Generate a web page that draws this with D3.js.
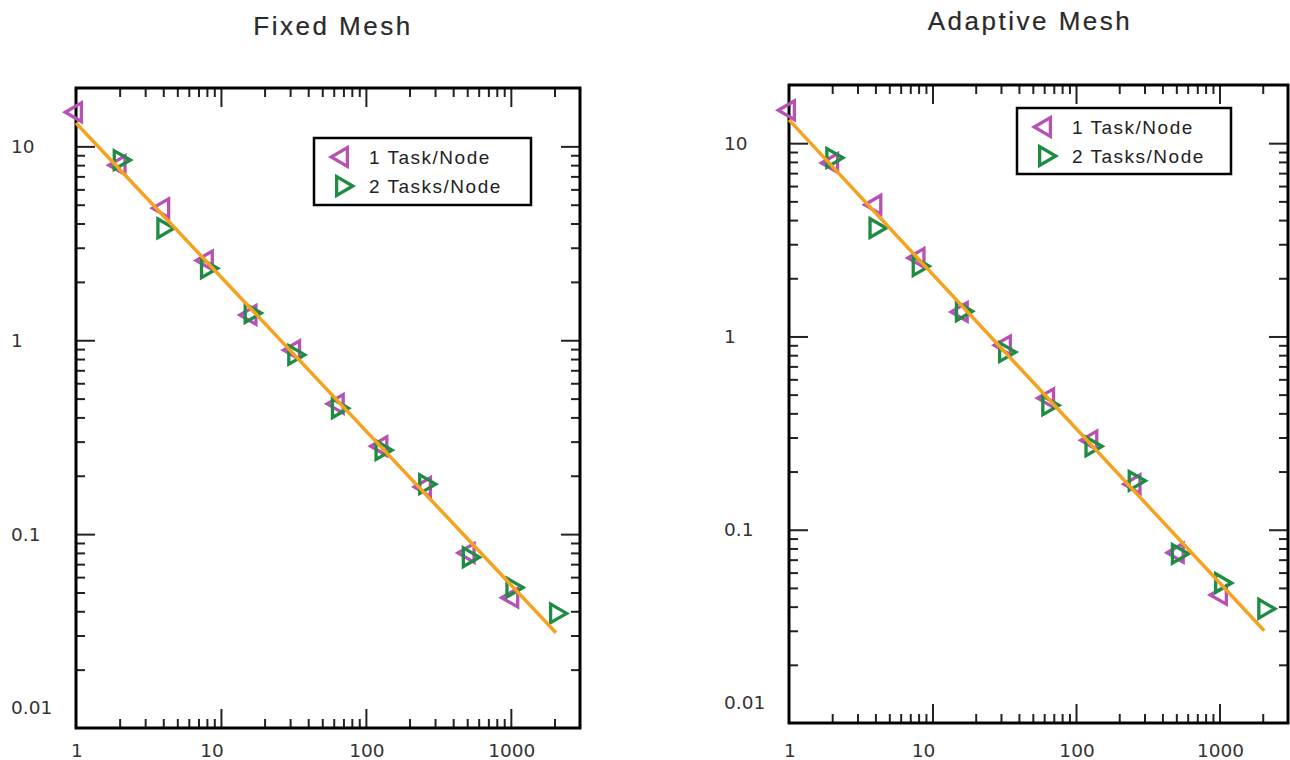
<!DOCTYPE html>
<html>
<head>
<meta charset="utf-8">
<script src="https://cdn.jsdelivr.net/npm/d3@7"></script>
<style>
  body { margin: 0; background: #fff; }
  svg { display: block; }
  .tick line { stroke: #222; stroke-width: 2; }
  .tick text { display: none; }
  .lbl { font-family: "DejaVu Sans", sans-serif; font-size: 18.5px; fill: #333; }
  .title { font-family: "Liberation Sans", Arial, sans-serif; font-size: 26px; letter-spacing: 2.5px;
           fill: #2a2a2a; stroke: #2a2a2a; stroke-width: 0.2px; }
  .leg { font-family: "Liberation Sans", Arial, sans-serif; font-size: 19px; letter-spacing: 1.5px; fill: #222; }
</style>
</head>
<body>
<svg id="chart" width="1290" height="760"></svg>
<script>
// processor counts
const nodesOne = [1, 2, 4, 8, 16, 32, 64, 128, 256, 512, 1024];
const nodesTwo = [2, 4, 8, 16, 32, 64, 128, 256, 512, 1024, 2048];

// time per step
const fixedOne = [15, 8.0, 4.8, 2.58, 1.35, 0.89, 0.47, 0.284, 0.175, 0.080, 0.047];
const fixedTwo = [8.5, 3.78, 2.35, 1.38, 0.84, 0.446, 0.271, 0.181, 0.076, 0.053, 0.039];
const adaptiveOne = [14.8, 7.9, 4.8, 2.55, 1.34, 0.90, 0.48, 0.29, 0.172, 0.076, 0.046];
const adaptiveTwo = [8.4, 3.64, 2.31, 1.35, 0.83, 0.44, 0.27, 0.179, 0.075, 0.053, 0.039];

// ideal scaling line (end points)
const fitX = [1, 2048];
const fitFixed = [13.2, 0.031];
const fitAdaptive = [13.2, 0.030];

const xMajor = [1, 10, 100, 1000];
const yMajor = [0.01, 0.1, 1, 10];
const xDomain = [1, 3000];
const yDomain = [0.01, 20];
const seriesNames = ["1 Task/Node", "2 Tasks/Node"];

const colOne = "#b752b3", colTwo = "#1e8c42", colFit = "#f4a21f";

const svg = d3.select("#chart");
const tri = d3.symbol().type(d3.symbolTriangle).size(150);

function fmt(v) { return v >= 1 ? String(v) : String(+v.toFixed(2)); }

function panel(o) {
    const x = d3.scaleLog().domain(xDomain).range([o.x0, o.x1]);
    const y = d3.scaleLog().domain(yDomain).range([o.y1, o.y0]);
    const g = svg.append("g");

    const isPow = v => Math.abs(Math.log10(v) - Math.round(Math.log10(v))) < 1e-9;
    const xMinor = x.ticks().filter(v => !isPow(v) && v > xDomain[0] && v < xDomain[1]);
    const yMinor = y.ticks().filter(v => !isPow(v) && v > yDomain[0] && v < yDomain[1]);
    const xMaj = xMajor.filter(v => v > xDomain[0]);
    const yMaj = yMajor.filter(v => v > yDomain[0]);

    // ticks on all four sides, pointing inward
    const sides = [
        [d3.axisBottom, x, `translate(0,${o.y1})`, xMinor, xMaj],
        [d3.axisTop, x, `translate(0,${o.y0})`, xMinor, xMaj],
        [d3.axisLeft, y, `translate(${o.x0},0)`, yMinor, yMaj],
        [d3.axisRight, y, `translate(${o.x1},0)`, yMinor, yMaj]
    ];
    sides.forEach(([ax, sc, tr, minor, major]) => {
        g.append("g").attr("transform", tr)
            .call(ax(sc).tickValues(minor).tickSize(-9).tickFormat(""))
            .call(s => s.select(".domain").remove());
        g.append("g").attr("transform", tr)
            .call(ax(sc).tickValues(major).tickSize(-19).tickFormat(""))
            .call(s => s.select(".domain").remove());
    });

    g.append("rect")
        .attr("x", o.x0).attr("y", o.y0)
        .attr("width", o.x1 - o.x0).attr("height", o.y1 - o.y0)
        .attr("fill", "none").attr("stroke", "#000").attr("stroke-width", 3);

    // tick labels
    g.selectAll(".xl").data(xMajor).join("text").attr("class", "lbl")
        .attr("x", d => x(d) + (d === 10 ? -9 : 1))
        .attr("y", 757)
        .attr("text-anchor", "middle")
        .text(fmt);
    g.selectAll(".yl").data(yMajor).join("text").attr("class", "lbl")
        .attr("x", o.x0 - 65)
        .attr("y", d => y(d) + (d === yDomain[0] ? -20 : 0))
        .attr("dy", "0.35em")
        .text(fmt);

    // markers
    g.selectAll(".m1").data(nodesOne.map((n, i) => [n, o.one[i]])).join("path")
        .attr("d", tri)
        .attr("transform", d => `translate(${x(d[0])},${y(d[1])}) rotate(-90)`)
        .attr("fill", "none").attr("stroke", colOne).attr("stroke-width", 3.3);
    g.selectAll(".m2").data(nodesTwo.map((n, i) => [n, o.two[i]])).join("path")
        .attr("d", tri)
        .attr("transform", d => `translate(${x(d[0])},${y(d[1])}) rotate(90)`)
        .attr("fill", "none").attr("stroke", colTwo).attr("stroke-width", 3.3);

    // fit line on top
    g.append("path")
        .datum(fitX.map((v, i) => [v, o.fit[i]]))
        .attr("d", d3.line().x(d => x(d[0])).y(d => y(d[1])))
        .attr("fill", "none").attr("stroke", colFit).attr("stroke-width", 3.5);

    // title
    g.append("text").attr("class", "title")
        .attr("x", o.tx).attr("y", o.ty)
        .attr("text-anchor", "middle")
        .text(o.title);

    // legend
    const L = o.leg;
    g.append("rect")
        .attr("x", L[0]).attr("y", L[1]).attr("width", L[2]).attr("height", L[3])
        .attr("fill", "#fff").attr("stroke", "#000").attr("stroke-width", 2.5);
    [[colOne, -90], [colTwo, 90]].forEach((c, i) => {
        const cy = L[1] + 19 + i * 29;
        g.append("path").attr("d", tri)
            .attr("transform", `translate(${L[0] + 28},${cy}) rotate(${c[1]})`)
            .attr("fill", "none").attr("stroke", c[0]).attr("stroke-width", 3.3);
        g.append("text").attr("class", "leg")
            .attr("x", L[0] + 55).attr("y", cy).attr("dy", "0.36em")
            .text(seriesNames[i]);
    });
}

panel({ title: "Fixed Mesh", tx: 333, ty: 35, x0: 76, x1: 580, y0: 88, y1: 728,
        one: fixedOne, two: fixedTwo, fit: fitFixed, leg: [314, 138, 217, 67] });
panel({ title: "Adaptive Mesh", tx: 1030, ty: 30, x0: 789, x1: 1288, y0: 85, y1: 723,
        one: adaptiveOne, two: adaptiveTwo, fit: fitAdaptive, leg: [1017, 108, 214, 66] });
</script>
</body>
</html>
